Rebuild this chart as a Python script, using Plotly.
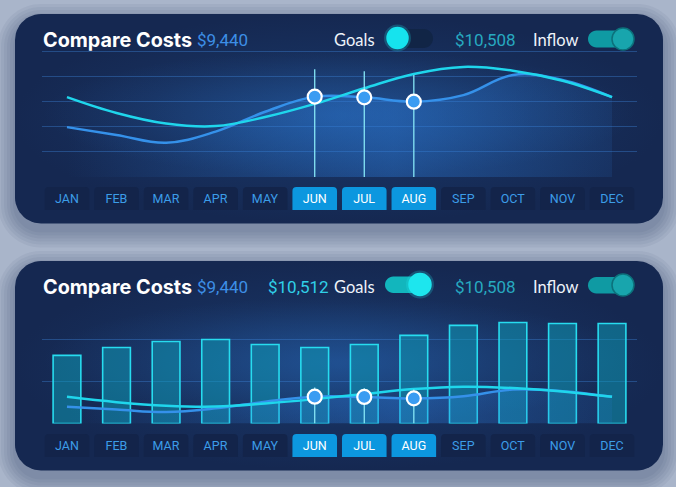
import numpy as np
import plotly.graph_objects as go

# ---------------- data ----------------
months = ["JAN", "FEB", "MAR", "APR", "MAY", "JUN", "JUL", "AUG", "SEP", "OCT", "NOV", "DEC"]
costs = [1.98, 1.67, 1.36, 1.80, 2.59, 3.19, 3.16, 2.99, 3.25, 4.05, 3.85, 3.17]      # blue line
inflow = [3.17, 2.54, 2.12, 2.02, 2.38, 2.90, 3.52, 4.09, 4.37, 4.22, 3.82, 3.17]     # cyan line
goals = [8.1, 9.05, 9.76, 10.0, 9.4, 9.05, 9.4, 10.48, 11.67, 12.02, 11.9, 11.9]      # bars
highlight = ["JUN", "JUL", "AUG"]
highlight_top = [4.28, 4.20, 4.05]
title = "Compare Costs"
costs_total = "$9,440"
goals_total = "$10,512"
inflow_total = "$10,508"

W, H = 676, 487
BG = "#a9b5ca"
BLUE = "#3591ea"
CYAN = "#1fd6ec"

def py(p):  # pixel y -> paper y
    return 1 - p / H

def px(p):
    return p / W

def rr_points(x0, y0, x1, y1, r, n=14):
    xs, ys = [], []
    corners = [(x1 - r, y0 + r, -90, 0), (x1 - r, y1 - r, 0, 90),
               (x0 + r, y1 - r, 90, 180), (x0 + r, y0 + r, 180, 270)]
    for cx, cy, a0, a1 in corners:
        for t in np.radians(np.linspace(a0, a1, n)):
            xs.append(cx + r * np.cos(t))
            ys.append(cy + r * np.sin(t))
    xs.append(xs[0]); ys.append(ys[0])
    return xs, ys

def rr_path(x0, y0, x1, y1, r):
    k = 0.5523 * r
    return (f"M{x0+r},{y0} L{x1-r},{y0} C{x1-r+k},{y0} {x1},{y0+r-k} {x1},{y0+r} "
            f"L{x1},{y1-r} C{x1},{y1-r+k} {x1-r+k},{y1} {x1-r},{y1} "
            f"L{x0+r},{y1} C{x0+r-k},{y1} {x0},{y1-r+k} {x0},{y1-r} "
            f"L{x0},{y0+r} C{x0},{y0+r-k} {x0+r-k},{y0} {x0+r},{y0} Z")

fig = go.Figure()

# ---------------- panels (canvas axis x/y in pixels) ----------------
panels = [(15, 14, 663, 223.5), (15, 261, 663, 470.5)]
plots = [(43, 50, 636, 177), (43, 297, 636, 423.5)]
shapes = []
for (x0, y0, x1, y1) in panels:
    for i in range(6):
        e = 2 + i * 3
        shapes.append(dict(type="path", xref="x", yref="y", layer="below",
                           path=rr_path(x0 - e, y0 - e + 7, x1 + e, y1 + e + 7, 26 + e),
                           fillcolor="rgba(25,40,75,0.05)", line=dict(width=0)))
    xs, ys = rr_points(x0, y0, x1, y1, 26)
    fig.add_trace(go.Scatter(x=xs, y=ys, mode="lines", fill="toself", line=dict(width=0),
                             fillgradient=dict(type="radial",
                                               colorscale=[[0, "#1b4179"], [0.6, "#172f5c"], [1, "#152851"]]),
                             hoverinfo="skip", showlegend=False, xaxis="x", yaxis="y"))
for (x0, y0, x1, y1) in plots:
    fig.add_trace(go.Scatter(x=[x0, x1, x1, x0, x0], y=[y0, y0, y1, y1, y0], mode="lines",
                             fill="toself", line=dict(width=0),
                             fillgradient=dict(type="radial",
                                               colorscale=[[0, "rgba(40,105,185,0.38)"], [1, "rgba(40,105,185,0.0)"]]),
                             hoverinfo="skip", showlegend=False, xaxis="x", yaxis="y"))

# ---------------- line layers ----------------
def add_lines(xa, ya):
    fig.add_trace(go.Scatter(x=months, y=costs, mode="lines", line=dict(width=0, shape="spline", smoothing=1.1),
                             fill="tozeroy",
                             fillgradient=dict(type="horizontal", start=0, stop=11,
                                               colorscale=[[0, "rgba(45,125,220,0.0)"],
                                                           [0.6, "rgba(45,125,220,0.38)"],
                                                           [1, "rgba(45,125,220,0.12)"]]),
                             hoverinfo="skip", showlegend=False, xaxis=xa, yaxis=ya))
    fig.add_trace(go.Scatter(x=months, y=costs, mode="lines", line=dict(color=BLUE, width=2.5, shape="spline", smoothing=1.1),
                             hoverinfo="skip", showlegend=False, xaxis=xa, yaxis=ya))
    fig.add_trace(go.Scatter(x=months, y=inflow, mode="lines", line=dict(color=CYAN, width=2.5, shape="spline", smoothing=1.1),
                             hoverinfo="skip", showlegend=False, xaxis=xa, yaxis=ya))
    for m, t in zip(highlight, highlight_top):
        fig.add_trace(go.Scatter(x=[m, m], y=[0, t], mode="lines", line=dict(color="#86e6f6", width=1.3),
                                 hoverinfo="skip", showlegend=False, xaxis=xa, yaxis=ya))
    hv = [costs[months.index(m)] for m in highlight]
    fig.add_trace(go.Scatter(x=highlight, y=hv, mode="markers",
                             marker=dict(size=14, color="#3a9cf2", line=dict(color="white", width=2.2)),
                             hoverinfo="skip", showlegend=False, xaxis=xa, yaxis=ya))

# top chart (x2/y2)
add_lines("x2", "y2")

# bottom chart (x4/y4): bars + lines
fig.add_trace(go.Bar(x=months, y=goals, width=0.56,
                     marker=dict(color="rgba(14,158,185,0.52)", line=dict(color="#27dcef", width=1.6)),
                     hoverinfo="skip", showlegend=False, xaxis="x4", yaxis="y4"))
add_lines("x4", "y4")

# month buttons (x3/y3 top, x5/y5 bottom)
btn_colors = ["#0c97df" if m in highlight else "#13244a" for m in months]
btn_text = ["#ffffff" if m in highlight else "#3c9de8" for m in months]
for xa, ya in [("x3", "y3"), ("x5", "y5")]:
    fig.add_trace(go.Bar(x=months, y=[1] * len(months), width=0.9, text=months,
                         textposition="inside", insidetextanchor="middle", textangle=0,
                         textfont=dict(family="Liberation Sans Narrow, Roboto", size=12.5, color=btn_text),
                         marker=dict(color=btn_colors, line=dict(width=0), cornerradius=4),
                         hoverinfo="skip", showlegend=False, xaxis=xa, yaxis=ya))

# ---------------- toggles ----------------
def capsule(x0, y0, x1, y1, color):
    return dict(type="path", xref="x", yref="y", layer="above",
                path=rr_path(x0, y0, x1, y1, (y1 - y0) / 2), fillcolor=color, line=dict(width=0))

def knob(cx, cy, r, color, line_color=None, glow=None):
    out = []
    if glow:
        out.append(dict(type="circle", xref="x", yref="y", layer="above",
                        x0=cx - r - 3, x1=cx + r + 3, y0=cy - r - 3, y1=cy + r + 3,
                        fillcolor=glow, line=dict(width=0)))
    out.append(dict(type="circle", xref="x", yref="y", layer="above",
                    x0=cx - r, x1=cx + r, y0=cy - r, y1=cy + r, fillcolor=color,
                    line=dict(color=line_color or color, width=1.5)))
    return out

# top panel
shapes.append(capsule(386, 29, 433, 48, "#112546"))
shapes += knob(397.5, 38, 10.5, "#16e3ee", glow="rgba(30,230,240,0.22)")
shapes.append(capsule(588, 30.5, 634, 47.5, "#0f9aa3"))
shapes += knob(623, 39, 11, "#18a5ad", line_color="#0c717b")
# bottom panel
shapes.append(capsule(385, 276.5, 431, 293, "#12b6bd"))
shapes += knob(420, 284.5, 11, "#1de6ee", glow="rgba(30,230,240,0.22)")
shapes.append(capsule(588, 277, 634, 293.5, "#0f9aa3"))
shapes += knob(623, 285, 11, "#18a5ad", line_color="#0c717b")

# ---------------- header texts ----------------
ann = []
def txt(x, y, s, size, color, family, bold=False):
    ann.append(dict(x=x, y=y, xref="x", yref="y", text=f"<b>{s}</b>" if bold else s, showarrow=False,
                    xanchor="left", yanchor="middle", font=dict(size=size, color=color, family=family)))

for dy, show_goals in [(0, False), (247, True)]:
    txt(41, 39.5 + dy, title, 19.8, "#ffffff", "Inter", bold=True)
    txt(195, 39.5 + dy, costs_total, 17, "#3d8fe6", "Roboto")
    if show_goals:
        txt(266, 39.5 + dy, goals_total, 17, "#30d0e8", "Roboto")
    txt(332, 39.5 + dy, "Goals", 16.5, "#eef3fa", "Lato")
    txt(453, 39.5 + dy, inflow_total, 17, "#27a9c0", "Roboto")
    txt(531, 39.5 + dy, "Inflow", 16.5, "#eef3fa", "Lato")

# ---------------- layout ----------------
xdom = [px(42.2), px(636.8)]
hidden = dict(visible=False, fixedrange=True)
grid = dict(showgrid=True, gridcolor="rgba(60,130,215,0.40)", gridwidth=1, zeroline=False,
            showticklabels=False, ticks="", showline=False, fixedrange=True)
catx = dict(type="category", categoryorder="array", categoryarray=months, range=[-0.5, 11.5],
            domain=xdom, visible=False, fixedrange=True)

fig.update_layout(
    width=W, height=H, margin=dict(l=0, r=0, t=0, b=0),
    paper_bgcolor=BG, plot_bgcolor="rgba(0,0,0,0)",
    showlegend=False, barmode="overlay",
    xaxis=dict(range=[0, W], domain=[0, 1], **hidden),
    yaxis=dict(range=[H, 0], domain=[0, 1], **hidden),
    xaxis2=dict(**catx, anchor="y2"),
    yaxis2=dict(range=[0, 5.04], domain=[py(177), py(50)], tickvals=[1, 2, 3, 4, 5], anchor="x2", **grid),
    xaxis3=dict(**catx, anchor="y3"),
    yaxis3=dict(range=[0, 1], domain=[py(210), py(187)], anchor="x3", **hidden),
    xaxis4=dict(**catx, anchor="y4"),
    yaxis4=dict(range=[0, 15.05], domain=[py(423.5), py(297)], tickvals=[5, 10, 15], anchor="x4", **grid),
    xaxis5=dict(**catx, anchor="y5"),
    yaxis5=dict(range=[0, 1], domain=[py(457), py(434)], anchor="x5", **hidden),
    shapes=shapes, annotations=ann,
)

fig.write_html("out.html")
